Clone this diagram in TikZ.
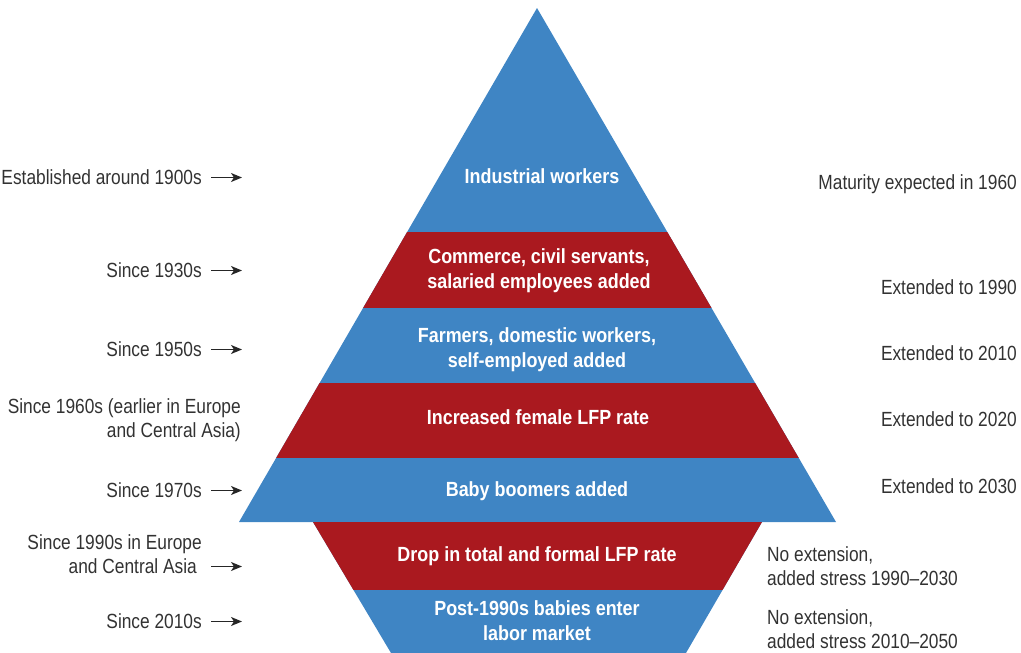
\documentclass[tikz,border=0pt]{standalone}
\usepackage{fontspec}
\setmainfont{Liberation Sans}[FakeStretch=0.845,BoldFeatures={FakeStretch=0.875}]
\usetikzlibrary{arrows.meta,positioning,calc}
\definecolor{pyrblue}{RGB}{63,133,196}
\definecolor{pyrred}{RGB}{170,25,31}
\definecolor{sidegray}{RGB}{50,50,50}

\begin{document}
\begin{tikzpicture}[x=1pt,y=-1pt,
  bandtext/.style={text=white,font=\fontsize{20.5}{25}\selectfont\bfseries,align=center,inner sep=0pt},
  sidelabel/.style={text=sidegray,font=\fontsize{20.5}{24}\selectfont,inner sep=0pt},
  sidearrow/.style={-{Stealth[length=11pt,width=9pt,inset=3pt]},line width=1.3pt,black!85}]
\useasboundingbox (0,0) rectangle (1021,653);

% Upper pyramid
\coordinate (apex) at (537,8);
\coordinate (baseL) at (239,522);
\coordinate (baseR) at (836,522);
\fill[pyrblue] (apex) -- (baseR) -- (baseL) -- cycle;
\begin{scope}
  \clip (apex) -- (baseR) -- (baseL) -- cycle;
  \fill[pyrred] (0,232) rectangle (1021,308);
  \fill[pyrred] (0,383) rectangle (1021,458);
\end{scope}

% Lower inverted part
\coordinate (topL) at (313,522);
\coordinate (topR) at (762,522);
\coordinate (botR) at (686,653);
\coordinate (botL) at (391,653);
\fill[pyrblue] (topL) -- (topR) -- (botR) -- (botL) -- cycle;
\begin{scope}
  \clip (topL) -- (topR) -- (botR) -- (botL) -- cycle;
  \fill[pyrred] (0,522) rectangle (1021,590);
\end{scope}

% Band labels (base = last line)
\node[bandtext,anchor=base] (ind) at (542,183) {Industrial workers};
\node[bandtext,anchor=base] (com) at (539,288) {Commerce, civil servants,\\salaried employees added};
\node[bandtext,anchor=base] (farm) at (537,367) {Farmers, domestic workers,\\self-employed added};
\node[bandtext,anchor=base] (fem) at (538,424) {Increased female LFP rate};
\node[bandtext,anchor=base] (boom) at (537,496) {Baby boomers added};
\node[bandtext,anchor=base] (drop) at (537,561) {Drop in total and formal LFP rate};
\node[bandtext,anchor=base] (post) at (537,640) {Post-1990s babies enter\\labor market};

% Left labels
\coordinate (arrstart) at (211,0);
\coordinate (arrend) at (242,0);
\node[sidelabel,anchor=base east] (est) at (202,184) {Established around 1900s};
\node[sidelabel,anchor=base east] (s30) at (202,277) {Since 1930s};
\node[sidelabel,anchor=base east] (s50) at (202,356) {Since 1950s};
\node[sidelabel,anchor=base east,align=right] (s60) at (241,437) {Since 1960s (earlier in Europe\\and Central Asia)};
\node[sidelabel,anchor=base east] (s70) at (202,497) {Since 1970s};
\node[sidelabel,anchor=base east,align=right] (s90) at (202,573) {Since 1990s in Europe\\and Central Asia\hspace*{5pt}};
\node[sidelabel,anchor=base east] (s10) at (202,628) {Since 2010s};

\foreach \n in {est,s30,s50,s70,s90,s10}
  \draw[sidearrow] ([yshift=6.5pt]\n.base east -| arrstart) -- ([yshift=6.5pt]\n.base east -| arrend);

% Right labels
\node[sidelabel,anchor=base east] (mat) at (1017,189) {Maturity expected in 1960};
\node[sidelabel,anchor=base east] (e90) at (1017,294) {Extended to 1990};
\node[sidelabel,anchor=base east] (e10) at (1017,360) {Extended to 2010};
\node[sidelabel,anchor=base east] (e20) at (1017,426) {Extended to 2020};
\node[sidelabel,anchor=base east] (e30) at (1017,493) {Extended to 2030};
\node[sidelabel,anchor=base west,align=left] (ne90) at (767,585) {No extension,\\added stress 1990--2030};
\node[sidelabel,anchor=base west,align=left] (ne10) at (767,648) {No extension,\\added stress 2010--2050};

\end{tikzpicture}
\end{document}
